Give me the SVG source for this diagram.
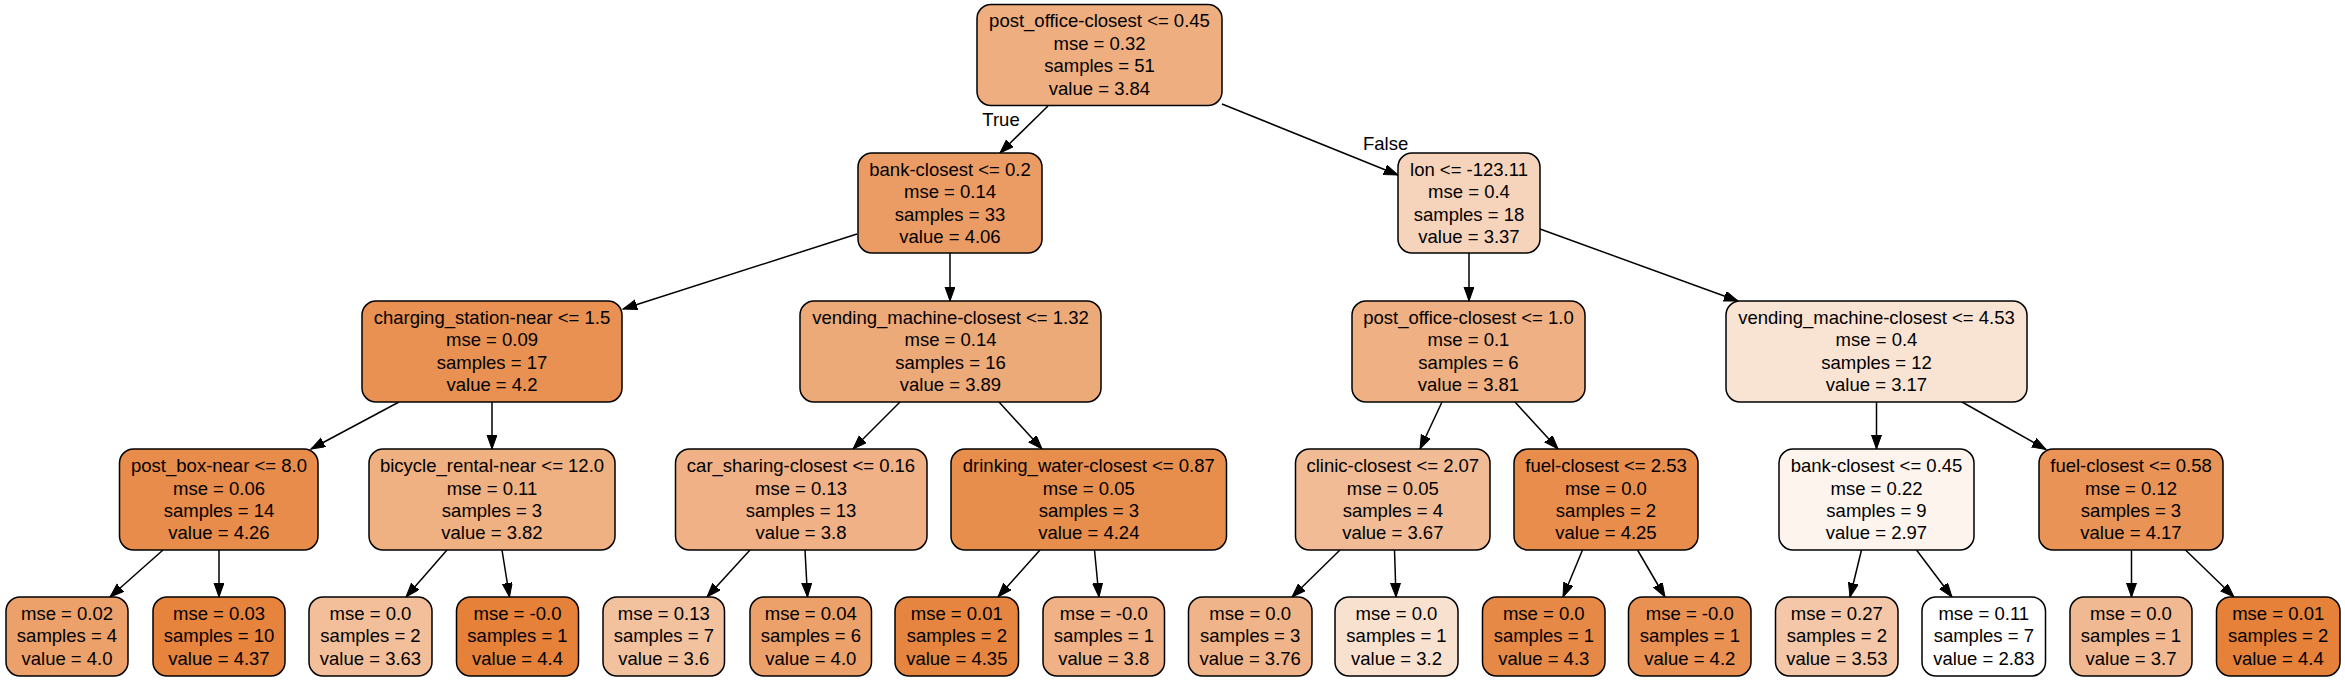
<svg xmlns="http://www.w3.org/2000/svg" width="2345" height="681" viewBox="0 0 2345 681">
<defs>
<marker id="ah" markerUnits="userSpaceOnUse" markerWidth="15" markerHeight="11" refX="14" refY="5" orient="auto"><path d="M0,0 L14,5 L0,10 z" fill="#000" stroke="#000" stroke-width="1"/></marker>
</defs>
<style>
.n rect{stroke:#000;stroke-width:1.5}
text{font-family:"Liberation Sans",Arial,Helvetica,sans-serif;font-size:18.5px;fill:#000}
.n text{text-anchor:middle}
#edges line{stroke:#000;stroke-width:1.5;marker-end:url(#ah)}
</style>
<rect width="2345" height="681" fill="#fff"/>
<g id="edges">
<line x1="1048" y1="106" x2="1000" y2="153"/>
<line x1="1222" y1="104" x2="1398" y2="175"/>
<line x1="857" y1="234" x2="623" y2="309"/>
<line x1="950" y1="253" x2="950" y2="301"/>
<line x1="1469" y1="253" x2="1469" y2="301"/>
<line x1="1540" y1="229" x2="1738" y2="301"/>
<line x1="399" y1="402" x2="311" y2="449"/>
<line x1="492" y1="402" x2="492" y2="449"/>
<line x1="900" y1="402" x2="853" y2="449"/>
<line x1="999" y1="402" x2="1042" y2="449"/>
<line x1="1442" y1="402" x2="1420" y2="449"/>
<line x1="1515" y1="402" x2="1558" y2="449"/>
<line x1="1876.5" y1="402" x2="1876.5" y2="449"/>
<line x1="1962" y1="402" x2="2046" y2="449.5"/>
<line x1="163" y1="550" x2="110" y2="597"/>
<line x1="219" y1="550" x2="219" y2="597"/>
<line x1="447" y1="550" x2="406" y2="597"/>
<line x1="502" y1="550" x2="509.5" y2="597"/>
<line x1="750" y1="550" x2="707" y2="597"/>
<line x1="805" y1="550" x2="807.5" y2="597"/>
<line x1="1040" y1="550" x2="998" y2="597"/>
<line x1="1094.5" y1="550" x2="1099" y2="597"/>
<line x1="1340" y1="550" x2="1292" y2="597"/>
<line x1="1394.5" y1="550" x2="1396" y2="597"/>
<line x1="1582.5" y1="550" x2="1563" y2="597"/>
<line x1="1637.5" y1="550" x2="1665" y2="597"/>
<line x1="1861.5" y1="550" x2="1850" y2="597"/>
<line x1="1916.5" y1="550" x2="1952" y2="597"/>
<line x1="2131.5" y1="550" x2="2131.5" y2="597"/>
<line x1="2185.5" y1="550" x2="2234" y2="597"/>
<text x="1001" y="126" text-anchor="middle">True</text>
<text x="1363" y="150">False</text>
</g>
<g id="n0" class="n"><rect x="977" y="4.5" width="245" height="101" rx="14" fill="#eeae80"/><text x="1099.5" y="27">post_office-closest &lt;= 0.45</text><text x="1099.5" y="49.5">mse = 0.32</text><text x="1099.5" y="72">samples = 51</text><text x="1099.5" y="94.5">value = 3.84</text></g>
<g id="n1" class="n"><rect x="858" y="153" width="184" height="100" rx="14" fill="#eb9c64"/><text x="950" y="175.5">bank-closest &lt;= 0.2</text><text x="950" y="198">mse = 0.14</text><text x="950" y="220.5">samples = 33</text><text x="950" y="243">value = 4.06</text></g>
<g id="n2" class="n"><rect x="1398" y="153" width="142" height="100" rx="14" fill="#f6d4bb"/><text x="1469" y="175.5">lon &lt;= -123.11</text><text x="1469" y="198">mse = 0.4</text><text x="1469" y="220.5">samples = 18</text><text x="1469" y="243">value = 3.37</text></g>
<g id="n3" class="n"><rect x="362" y="301" width="260" height="101" rx="14" fill="#e89152"/><text x="492" y="323.5">charging_station-near &lt;= 1.5</text><text x="492" y="346">mse = 0.09</text><text x="492" y="368.5">samples = 17</text><text x="492" y="391">value = 4.2</text></g>
<g id="n4" class="n"><rect x="800" y="301" width="301" height="101" rx="14" fill="#edaa79"/><text x="950.5" y="323.5">vending_machine-closest &lt;= 1.32</text><text x="950.5" y="346">mse = 0.14</text><text x="950.5" y="368.5">samples = 16</text><text x="950.5" y="391">value = 3.89</text></g>
<g id="n5" class="n"><rect x="1352" y="301" width="233" height="101" rx="14" fill="#efb083"/><text x="1468.5" y="323.5">post_office-closest &lt;= 1.0</text><text x="1468.5" y="346">mse = 0.1</text><text x="1468.5" y="368.5">samples = 6</text><text x="1468.5" y="391">value = 3.81</text></g>
<g id="n6" class="n"><rect x="1726" y="301" width="301" height="101" rx="14" fill="#f9e4d4"/><text x="1876.5" y="323.5">vending_machine-closest &lt;= 4.53</text><text x="1876.5" y="346">mse = 0.4</text><text x="1876.5" y="368.5">samples = 12</text><text x="1876.5" y="391">value = 3.17</text></g>
<g id="n7" class="n"><rect x="119.5" y="449" width="198.5" height="101" rx="14" fill="#e78c4b"/><text x="219" y="472">post_box-near &lt;= 8.0</text><text x="219" y="494.5">mse = 0.06</text><text x="219" y="517">samples = 14</text><text x="219" y="539">value = 4.26</text></g>
<g id="n8" class="n"><rect x="369" y="449" width="246" height="101" rx="14" fill="#efb082"/><text x="492" y="472">bicycle_rental-near &lt;= 12.0</text><text x="492" y="494.5">mse = 0.11</text><text x="492" y="517">samples = 3</text><text x="492" y="539">value = 3.82</text></g>
<g id="n9" class="n"><rect x="675.5" y="449" width="251.5" height="101" rx="14" fill="#efb185"/><text x="801" y="472">car_sharing-closest &lt;= 0.16</text><text x="801" y="494.5">mse = 0.13</text><text x="801" y="517">samples = 13</text><text x="801" y="539">value = 3.8</text></g>
<g id="n10" class="n"><rect x="951" y="449" width="275.5" height="101" rx="14" fill="#e88e4d"/><text x="1088.8" y="472">drinking_water-closest &lt;= 0.87</text><text x="1088.8" y="494.5">mse = 0.05</text><text x="1088.8" y="517">samples = 3</text><text x="1088.8" y="539">value = 4.24</text></g>
<g id="n11" class="n"><rect x="1295.5" y="449" width="194.5" height="101" rx="14" fill="#f1bc95"/><text x="1392.8" y="472">clinic-closest &lt;= 2.07</text><text x="1392.8" y="494.5">mse = 0.05</text><text x="1392.8" y="517">samples = 4</text><text x="1392.8" y="539">value = 3.67</text></g>
<g id="n12" class="n"><rect x="1514" y="449" width="184" height="101" rx="14" fill="#e88d4c"/><text x="1606" y="472">fuel-closest &lt;= 2.53</text><text x="1606" y="494.5">mse = 0.0</text><text x="1606" y="517">samples = 2</text><text x="1606" y="539">value = 4.25</text></g>
<g id="n13" class="n"><rect x="1779" y="449" width="195" height="101" rx="14" fill="#fdf4ed"/><text x="1876.5" y="472">bank-closest &lt;= 0.45</text><text x="1876.5" y="494.5">mse = 0.22</text><text x="1876.5" y="517">samples = 9</text><text x="1876.5" y="539">value = 2.97</text></g>
<g id="n14" class="n"><rect x="2039" y="449" width="184" height="101" rx="14" fill="#e99356"/><text x="2131" y="472">fuel-closest &lt;= 0.58</text><text x="2131" y="494.5">mse = 0.12</text><text x="2131" y="517">samples = 3</text><text x="2131" y="539">value = 4.17</text></g>
<g id="l1" class="n"><rect x="6" y="597" width="122" height="79" rx="14" fill="#eca16b"/><text x="67" y="620">mse = 0.02</text><text x="67" y="642.3">samples = 4</text><text x="67" y="664.5">value = 4.0</text></g>
<g id="l2" class="n"><rect x="153" y="597" width="132" height="79" rx="14" fill="#e6833d"/><text x="219" y="620">mse = 0.03</text><text x="219" y="642.3">samples = 10</text><text x="219" y="664.5">value = 4.37</text></g>
<g id="l3" class="n"><rect x="309" y="597" width="123" height="79" rx="14" fill="#f2bf9a"/><text x="370.5" y="620">mse = 0.0</text><text x="370.5" y="642.3">samples = 2</text><text x="370.5" y="664.5">value = 3.63</text></g>
<g id="l4" class="n"><rect x="456.5" y="597" width="122" height="79" rx="14" fill="#e58139"/><text x="517.5" y="620">mse = -0.0</text><text x="517.5" y="642.3">samples = 1</text><text x="517.5" y="664.5">value = 4.4</text></g>
<g id="l5" class="n"><rect x="603" y="597" width="121.5" height="79" rx="14" fill="#f2c19e"/><text x="663.8" y="620">mse = 0.13</text><text x="663.8" y="642.3">samples = 7</text><text x="663.8" y="664.5">value = 3.6</text></g>
<g id="l6" class="n"><rect x="750" y="597" width="121.5" height="79" rx="14" fill="#eca16b"/><text x="810.8" y="620">mse = 0.04</text><text x="810.8" y="642.3">samples = 6</text><text x="810.8" y="664.5">value = 4.0</text></g>
<g id="l7" class="n"><rect x="895" y="597" width="123.5" height="79" rx="14" fill="#e6853f"/><text x="956.8" y="620">mse = 0.01</text><text x="956.8" y="642.3">samples = 2</text><text x="956.8" y="664.5">value = 4.35</text></g>
<g id="l8" class="n"><rect x="1043" y="597" width="121.5" height="79" rx="14" fill="#efb185"/><text x="1103.8" y="620">mse = -0.0</text><text x="1103.8" y="642.3">samples = 1</text><text x="1103.8" y="664.5">value = 3.8</text></g>
<g id="l9" class="n"><rect x="1188.5" y="597" width="123.5" height="79" rx="14" fill="#f0b48a"/><text x="1250.2" y="620">mse = 0.0</text><text x="1250.2" y="642.3">samples = 3</text><text x="1250.2" y="664.5">value = 3.76</text></g>
<g id="l10" class="n"><rect x="1335" y="597" width="123" height="79" rx="14" fill="#f9e1d0"/><text x="1396.5" y="620">mse = 0.0</text><text x="1396.5" y="642.3">samples = 1</text><text x="1396.5" y="664.5">value = 3.2</text></g>
<g id="l11" class="n"><rect x="1482.5" y="597" width="122.5" height="79" rx="14" fill="#e78946"/><text x="1543.8" y="620">mse = 0.0</text><text x="1543.8" y="642.3">samples = 1</text><text x="1543.8" y="664.5">value = 4.3</text></g>
<g id="l12" class="n"><rect x="1628.5" y="597" width="122.5" height="79" rx="14" fill="#e89152"/><text x="1689.8" y="620">mse = -0.0</text><text x="1689.8" y="642.3">samples = 1</text><text x="1689.8" y="664.5">value = 4.2</text></g>
<g id="l13" class="n"><rect x="1775.5" y="597" width="122.5" height="79" rx="14" fill="#f3c7a7"/><text x="1836.8" y="620">mse = 0.27</text><text x="1836.8" y="642.3">samples = 2</text><text x="1836.8" y="664.5">value = 3.53</text></g>
<g id="l14" class="n"><rect x="1922" y="597" width="123.5" height="79" rx="14" fill="#ffffff"/><text x="1983.8" y="620">mse = 0.11</text><text x="1983.8" y="642.3">samples = 7</text><text x="1983.8" y="664.5">value = 2.83</text></g>
<g id="l15" class="n"><rect x="2070" y="597" width="122" height="79" rx="14" fill="#f1b991"/><text x="2131" y="620">mse = 0.0</text><text x="2131" y="642.3">samples = 1</text><text x="2131" y="664.5">value = 3.7</text></g>
<g id="l16" class="n"><rect x="2216.5" y="597" width="123.5" height="79" rx="14" fill="#e58139"/><text x="2278.2" y="620">mse = 0.01</text><text x="2278.2" y="642.3">samples = 2</text><text x="2278.2" y="664.5">value = 4.4</text></g>
</svg>
